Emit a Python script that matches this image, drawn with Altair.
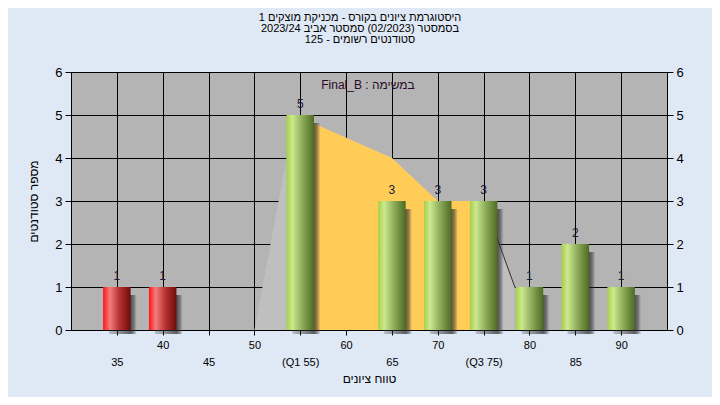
import altair as alt
import pandas as pd

title_lines = [
    "היסטוגרמת ציונים בקורס - מכניקת מוצקים 1",
    "בסמסטר  (02/2023)  סמסטר אביב 2023/24",
    "סטודנטים רשומים - 125",
]
task_label = "Final_B : במשימה"
x_title = "טווח ציונים"
y_title = "מספר סטודנטים"

grades = [35, 40, 55, 65, 70, 75, 80, 85, 90]
counts = [1, 1, 5, 3, 3, 3, 1, 2, 1]
bar_group = ["fail", "fail", "pass", "pass", "pass", "pass", "pass", "pass", "pass"]

curve_x = [50, 54.4, 65, 70, 75, 78.4]
curve_y = [0, 5, 4, 3, 3, 1]
curve_iqr = [False, True, True, True, True, False]
curve_tail = [False, False, False, False, True, True]

tick_values = [35, 40, 45, 50, 55, 60, 65, 70, 75, 80, 85, 90]
tick_labels = ["35", "40", "45", "50", "(Q1 55)", "60", "65", "70", "(Q3 75)", "80", "85", "90"]
y_ticks = [0, 1, 2, 3, 4, 5, 6]

FONT = "Liberation Sans"

bars = pd.DataFrame({"grade": grades, "count": counts, "group": bar_group})
curve = pd.DataFrame({"x": curve_x, "y": curve_y, "iqr": curve_iqr, "tail": curve_tail})

xscale = alt.Scale(domain=[30, 95], nice=False, zero=False, padding=0)
yscale = alt.Scale(domain=[0, 6], nice=False, padding=0)

vals_js = "[" + ",".join(str(v) for v in tick_values) + "]"
labs_js = "[" + ",".join("'" + s + "'" for s in tick_labels) + "]"
lab = f"{labs_js}[indexof({vals_js}, datum.value)]"
label_expr = f"datum.value % 10 == 5 ? ['', {lab}] : {lab}"

x_axis = alt.Axis(
    values=tick_values, grid=True, gridColor="black", gridOpacity=1, gridWidth=1,
    domainColor="black", tickColor="black", tickSize=5,
    labelExpr=label_expr, labelLineHeight=17, labelFontSize=11, labelColor="black",
    labelFont=FONT, labelPadding=4, labelFlush=False, labelOverlap=False,
    title=x_title, titleFont=FONT, titleFontSize=12, titleFontWeight="normal",
    titleColor="black", titlePadding=6,
)
y_axis_left = alt.Axis(
    values=y_ticks, grid=True, gridColor="black", gridOpacity=1, gridWidth=1,
    domainColor="black", tickColor="black", tickSize=6,
    labelFontSize=13, labelColor="black", labelFont=FONT, labelPadding=3,
    title=y_title, titleFont=FONT, titleFontSize=12, titleFontWeight="normal",
    titleColor="black", titlePadding=14,
)
y_axis_right = alt.Axis(
    values=y_ticks, grid=False, orient="right", domainColor="black", tickColor="black",
    tickSize=6, labelFontSize=13, labelColor="black", labelFont=FONT, labelPadding=3,
    title=None,
)

X_c = alt.X("x:Q", scale=xscale, axis=x_axis)
Y_c = alt.Y("y:Q", scale=yscale, axis=y_axis_left)

base_c = alt.Chart(curve)
grey_area = base_c.mark_area(color="#bfbfbf").encode(x=X_c, y=Y_c)
orange_area = base_c.transform_filter("datum.iqr").mark_area(color="#ffcc58").encode(x=X_c, y=Y_c)
tail_line = base_c.transform_filter("datum.tail").mark_line(
    color="#303030", strokeWidth=1
).encode(x=X_c, y=Y_c)

base_b = alt.Chart(bars).transform_calculate(
    x0="datum.grade - 1.5", x1="datum.grade + 1.5"
)


def grad(stops):
    return alt.Gradient(
        gradient="linear", x1=0, x2=1, y1=0, y2=0,
        stops=[alt.GradientStop(color=c, offset=o) for o, c in stops],
    )


green = grad([(0, "#a6d045"), (0.22, "#cde88f"), (0.5, "#9ab865"), (0.8, "#6a8a3a"), (1, "#4f6a26")])
red = grad([(0, "#ff1515"), (0.25, "#f27d7d"), (0.6, "#b83030"), (1, "#6e0c0c")])
shadow = grad([(0, "rgba(60,60,60,0.25)"), (0.78, "rgba(35,35,35,0.7)"),
               (0.9, "rgba(50,50,50,0.5)"), (1, "rgba(90,90,90,0.1)")])


def bar_layer(color, filt=None, **offs):
    b = base_b if filt is None else base_b.transform_filter(filt)
    return b.mark_bar(color=color, orient="vertical", **offs).encode(
        x=alt.X("x0:Q", scale=xscale, axis=x_axis),
        x2="x1:Q",
        y=alt.Y("count:Q", scale=yscale, axis=y_axis_left),
        y2=alt.datum(0),
    )


shadows = bar_layer(shadow, None, xOffset=6, x2Offset=6, yOffset=8, y2Offset=4)
red_bars = bar_layer(red, "datum.group == 'fail'")
green_bars = bar_layer(green, "datum.group == 'pass'")

labels = alt.Chart(bars).mark_text(
    font=FONT, fontSize=12, color="#1a1a3a", baseline="middle", dy=-11
).encode(
    x=alt.X("grade:Q", scale=xscale, axis=x_axis),
    y=alt.Y("count:Q", scale=yscale, axis=y_axis_right),
    text="count:Q",
)

task = alt.Chart(pd.DataFrame({"t": [task_label]})).mark_text(
    font=FONT, fontSize=12, color="#2a0a2a", baseline="middle", align="center"
).encode(x=alt.value(297), y=alt.value(13), text="t:N")

inner = alt.layer(grey_area, orange_area, tail_line, shadows, red_bars, green_bars, task)

chart = alt.layer(inner, labels).resolve_scale(y="shared").resolve_axis(
    y="independent"
).properties(
    autosize=alt.AutoSizeParams(type="none"),
    padding={"left": 63, "top": 64, "right": 45, "bottom": 67},
    background="#dfe8f5",
    title=alt.TitleParams(
        text=title_lines, font=FONT, fontSize=11, fontWeight="normal", color="black",
        lineHeight=11, anchor="middle", frame="group", offset=21, dx=-9,
    ),
).configure_view(fill="#b4b4b4", stroke=None, continuousWidth=596, continuousHeight=258)

chart.save("out.html", embed_options={"renderer": "svg", "actions": False})
